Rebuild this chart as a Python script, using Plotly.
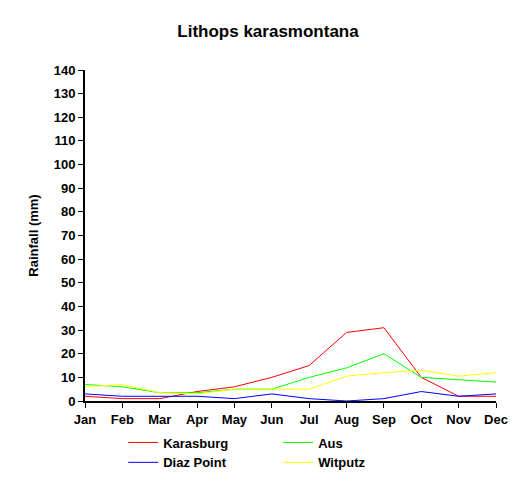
import plotly.graph_objects as go

months = ["Jan","Feb","Mar","Apr","May","Jun","Jul","Aug","Sep","Oct","Nov","Dec"]
karasburg = [2, 1, 1, 4, 6, 10, 15, 29, 31, 10, 2, 2]
aus = [7, 6, 3.5, 3.5, 5, 5, 10, 14, 20, 10, 9, 8]
diaz = [3, 2, 2, 2, 1, 3, 1, 0, 1, 4, 2, 3]
witputz = [6, 7, 3.5, 3, 5, 5, 5, 10.5, 12, 13, 10.5, 12]
yticks = list(range(0, 141, 10))

fig = go.Figure()
for name, vals, col in [("Karasburg", karasburg, "#ff0000"), ("Aus", aus, "#00ff00"),
                        ("Diaz Point", diaz, "#0000ff"), ("Witputz", witputz, "#ffff00")]:
    fig.add_trace(go.Scatter(x=months, y=vals, name=f"<b>{name}</b>", mode="lines",
                             line=dict(color=col, width=1)))

font = dict(family="Liberation Sans", size=13, color="black")
fig.update_layout(
    width=520, height=487, plot_bgcolor="white", paper_bgcolor="white",
    margin=dict(l=77, r=32, t=62, b=94, autoexpand=False),
    title=dict(text="<b>Lithops karasmontana</b>", x=0.5, xanchor="center", y=0.965,
               font=dict(family="Liberation Sans", size=17, color="black")),
    font=font,
    showlegend=True,
    legend=dict(orientation="h", x=0.47, xanchor="center", y=-0.08, yanchor="top",
                entrywidth=110, font=dict(family="Liberation Sans", size=13, color="black"),
                traceorder="normal"),
    xaxis=dict(showgrid=False, showline=True, linecolor="black", linewidth=2,
               ticks="outside", ticklen=5, tickcolor="black", range=[0, 11],
               tickvals=months, ticktext=[f"<b>{m}</b>" for m in months],
               zeroline=False, automargin=False),
    yaxis=dict(showgrid=False, showline=True, linecolor="black", linewidth=2,
               ticks="outside", ticklen=5, tickcolor="black", range=[0, 140],
               tickvals=yticks, ticktext=[f"<b>{v}</b>" for v in yticks],
               title=dict(text="<b>Rainfall (mm)</b>", font=dict(size=13), standoff=12),
               zeroline=False, automargin=False),
)
fig.write_html("out.html")
